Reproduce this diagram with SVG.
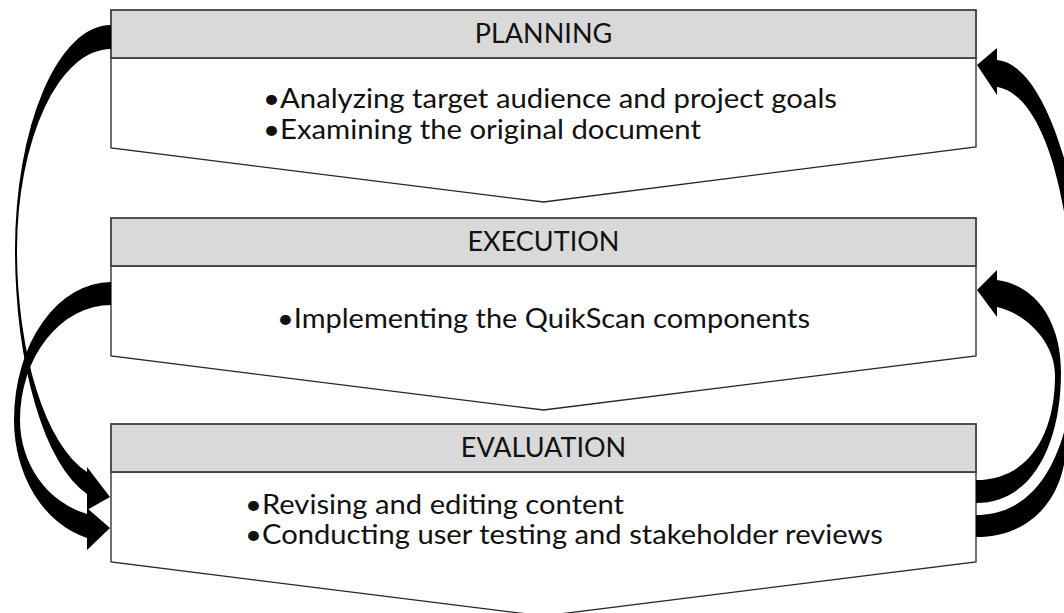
<svg xmlns="http://www.w3.org/2000/svg" width="1064" height="613" viewBox="0 0 1064 613">
  <style>
    .hdr { fill: #d9d9d9; stroke: #404040; stroke-width: 1.8; }
    .body { fill: #ffffff; stroke: #262626; stroke-width: 1.3; stroke-linejoin: miter; }
    .title { font-family: Lato, "Open Sans", sans-serif; font-size: 27px; fill: #111; text-anchor: middle; }
    .item { font-family: Lato, "Open Sans", sans-serif; font-size: 27px; fill: #111; }
    .arrow { fill: #000; stroke: none; }
  </style>
  <rect width="1064" height="613" fill="#ffffff"/>

  <g id="planning">
    <path class="body" d="M111,58 L976,58 L976,147 L543.5,202 L111,148 Z"/>
    <rect class="hdr" x="111" y="10" width="865" height="48"/>
    <text class="title" x="543.5" y="43">PLANNING</text>
    <text class="item" x="263" y="108" textLength="574" lengthAdjust="spacingAndGlyphs">•Analyzing target audience and project goals</text>
    <text class="item" x="263" y="139" textLength="438" lengthAdjust="spacingAndGlyphs">•Examining the original document</text>
  </g>

  <g id="execution">
    <path class="body" d="M111,266 L976,266 L976,356 L543.5,410 L111,356 Z"/>
    <rect class="hdr" x="111" y="218" width="865" height="48"/>
    <text class="title" x="543.5" y="251">EXECUTION</text>
    <text class="item" x="277" y="328" textLength="533" lengthAdjust="spacingAndGlyphs">•Implementing the QuikScan components</text>
  </g>

  <g id="evaluation">
    <path class="body" d="M111,472 L976,472 L976,562 L543.5,616 L111,562 Z"/>
    <rect class="hdr" x="111" y="424" width="865" height="48"/>
    <text class="title" x="543.5" y="457">EVALUATION</text>
    <text class="item" x="245" y="514" textLength="379" lengthAdjust="spacingAndGlyphs">•Revising and editing content</text>
    <text class="item" x="245" y="544" textLength="638" lengthAdjust="spacingAndGlyphs">•Conducting user testing and stakeholder reviews</text>
  </g>

  <g id="connectors">
    <path class="arrow" d="M111,25 A96,225 0 0 0 15,250 A96,252 0 0 0 87,494 L87,510 L110,497 L87,467 L87,472 A94,229.6 0 0 1 17,250 A94,201 0 0 1 111,49 Z"/>
    <path class="arrow" d="M111,282 A97,138 0 0 0 14,420 A97,121.8 0 0 0 87,538 L87,550 L110,528 L87,508 L87,514 A91,97.5 0 0 1 20,420 A91,115 0 0 1 111,305 Z"/>
    <path class="arrow" d="M976,503 C1035,503 1061,440 1061,372 C1061,320 1035,285 997,280 L997,270 L977,290 L997,317 L997,307 C1030,315 1055,345 1055,375 C1055,440 1025,480 976,480 Z"/>
    <path class="arrow" d="M976,537 C1030,537 1062,500 1066,450 C1070,400 1090,380 1090,330 C1084,190 1046,64 997,60 L997,48 L977,65 L997,95 L997,87 C1030,92 1068,150 1076,330 C1076,450 1040,515 976,515 Z"/>
  </g>
</svg>
